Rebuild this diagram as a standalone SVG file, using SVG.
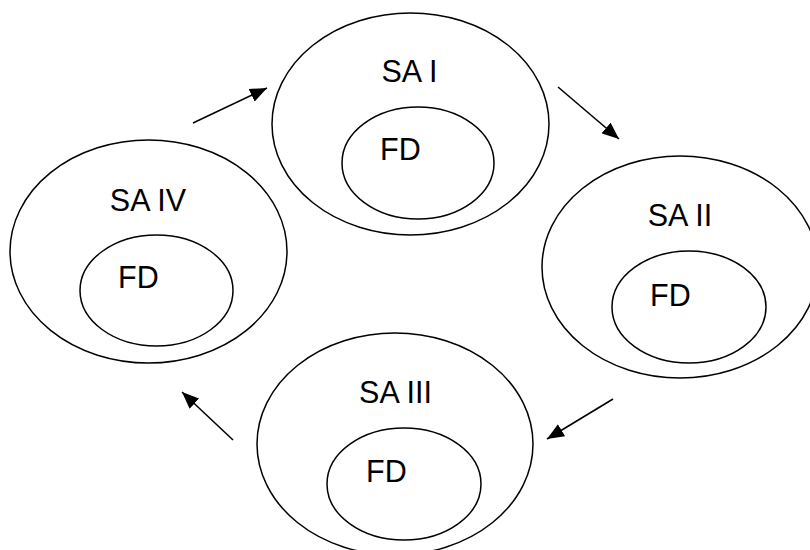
<svg xmlns="http://www.w3.org/2000/svg" width="810" height="550" viewBox="0 0 810 550">
<style>
.o{fill:none;stroke:#000;stroke-width:1.5}
.t{font-family:"Liberation Sans",Arial,sans-serif;font-size:30.5px;fill:#000}
.c{stroke:#000;stroke-width:1.6;fill:none}
</style>
<defs>
<marker id="ah" markerUnits="userSpaceOnUse" markerWidth="18" markerHeight="14" refX="17" refY="7" orient="auto">
<path d="M0,0 L17,7 L0,14 Z" fill="#000"/>
</marker>
</defs>
<rect width="810" height="550" fill="#fff"/>
<g id="sa1">
<ellipse class="o" cx="410.5" cy="124" rx="138.5" ry="111"/>
<ellipse class="o" cx="418" cy="163" rx="76" ry="56"/>
<text class="t" x="409.5" y="82" text-anchor="middle">SA I</text>
<text class="t" x="380" y="160">FD</text>
</g>
<g id="sa2">
<ellipse class="o" cx="680" cy="267" rx="138" ry="111"/>
<ellipse class="o" cx="689" cy="307" rx="77" ry="56"/>
<text class="t" x="680" y="226" text-anchor="middle">SA II</text>
<text class="t" x="650" y="306">FD</text>
</g>
<g id="sa3">
<ellipse class="o" cx="395" cy="444" rx="138" ry="111"/>
<ellipse class="o" cx="404" cy="484" rx="77" ry="56"/>
<text class="t" x="395.5" y="403" text-anchor="middle">SA III</text>
<text class="t" x="366" y="482">FD</text>
</g>
<g id="sa4">
<ellipse class="o" cx="148.5" cy="251.5" rx="138.5" ry="111.5"/>
<ellipse class="o" cx="156.5" cy="290.5" rx="76.5" ry="55.5"/>
<text class="t" x="148" y="211" text-anchor="middle">SA IV</text>
<text class="t" x="118" y="288">FD</text>
</g>
<g id="connectors">
<line class="c" x1="193" y1="123" x2="267" y2="88" marker-end="url(#ah)"/>
<line class="c" x1="558" y1="87" x2="619" y2="139" marker-end="url(#ah)"/>
<line class="c" x1="613" y1="399" x2="547" y2="439" marker-end="url(#ah)"/>
<line class="c" x1="233" y1="440" x2="182" y2="392" marker-end="url(#ah)"/>
</g>
</svg>
